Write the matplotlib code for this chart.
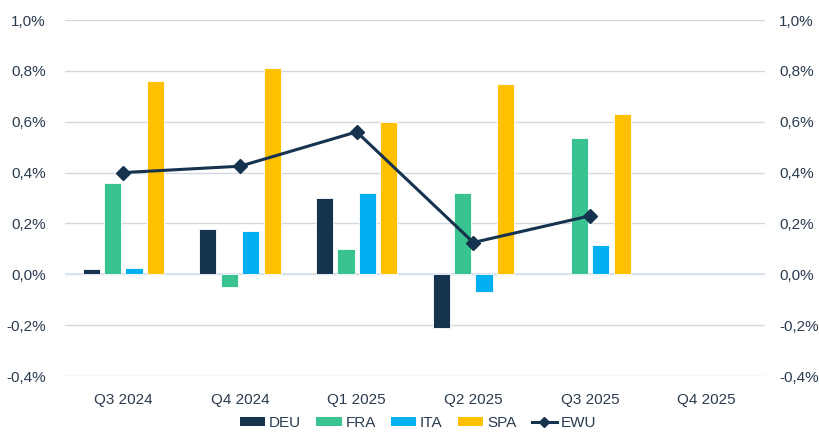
import matplotlib
matplotlib.use("Agg")
import matplotlib.pyplot as plt
import numpy as np
from matplotlib.ticker import FuncFormatter, MultipleLocator
from matplotlib.lines import Line2D
from matplotlib.patches import Patch

plt.rcParams['font.family'] = ['Liberation Sans', 'DejaVu Sans']

quarters = ["Q3 2024", "Q4 2024", "Q1 2025", "Q2 2025", "Q3 2025", "Q4 2025"]
deu = [0.02, 0.18, 0.30, -0.21, np.nan, np.nan]
fra = [0.36, -0.05, 0.10, 0.32, 0.535, np.nan]
ita = [0.023, 0.17, 0.32, -0.07, 0.115, np.nan]
spa = [0.76, 0.81, 0.60, 0.75, 0.63, np.nan]
ewu = [0.40, 0.425, 0.56, 0.125, 0.23, np.nan]

series = [("DEU", deu, "#15324F"), ("FRA", fra, "#38C390"),
          ("ITA", ita, "#00B0F0"), ("SPA", spa, "#FFC000")]
ewu_color = "#15324F"
text_color = "#2A3B50"
fs = 11

fig = plt.figure(figsize=(8.2, 4.32), dpi=100)
ax = fig.add_axes([65/820, 56/432, 700/820, 356/432])

x = np.arange(len(quarters))
slot = 0.183
width = 0.146
for i, (name, vals, col) in enumerate(series):
    offs = (i - 1.5) * slot
    ax.bar(x + offs, vals, width=width, color=col, edgecolor="white",
           linewidth=0.6, zorder=3)

ax.plot(x, ewu, color=ewu_color, lw=2.2, marker="D", ms=7, zorder=4)

ax.set_xlim(-0.5, len(quarters) - 0.5)
ax.set_ylim(-0.4, 1.0)
ax.yaxis.set_major_locator(MultipleLocator(0.2))
fmt = FuncFormatter(lambda v, p: f"{v:.1f}%".replace(".", ","))
ax.yaxis.set_major_formatter(fmt)
ax.grid(axis="y", color="#D3D8DE", lw=1, zorder=0)
ax.axhline(0, color="#D6E2EE", lw=1.2, zorder=2)
for s in ax.spines.values():
    s.set_visible(False)
ax.set_xticks(x)
ax.set_xticklabels(quarters)
ax.tick_params(axis="both", length=0, labelsize=fs, colors=text_color)
ax.tick_params(axis="y", pad=14)
ax.tick_params(axis="x", pad=12)

ax2 = ax.twinx()
ax2.set_ylim(ax.get_ylim())
ax2.yaxis.set_major_locator(MultipleLocator(0.2))
ax2.yaxis.set_major_formatter(fmt)
ax2.tick_params(axis="y", length=0, labelsize=fs, colors=text_color, pad=10)
for s in ax2.spines.values():
    s.set_visible(False)

handles = [Patch(facecolor=c, label=n) for n, _, c in series]
handles.append(Line2D([0], [0], color=ewu_color, lw=2.2, marker="D", ms=5, label="EWU"))
fig.legend(handles=handles, loc="center", bbox_to_anchor=(418/820, 9/432), ncol=5,
           frameon=False, fontsize=fs, handlelength=1.65, handleheight=0.6,
           columnspacing=1.0, handletextpad=0.25, labelcolor=text_color,
           borderpad=0)

fig.savefig("out.png", dpi=100)
